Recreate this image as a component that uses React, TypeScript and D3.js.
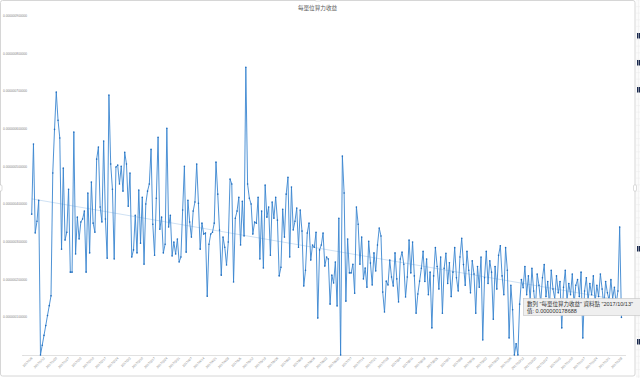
import React from "react";
import * as d3 from "d3";

const TITLE = "每單位算力收益";
const START_DATE = "2017-01-06";
const UNIT = 1e-7;
// daily values, in units of 1e-7
const VALUES = [
  3.74, 5.6, 3.24, 3.55, 4.11,
  0, 0.26, 0.52, 0.78, 1.05, 1.31, 1.57,
  4.83, 5.99, 6.98, 6.23, 5.76, 2.81, 4.96, 3.05, 3.26, 4.4,
  2.2, 2.2, 5.92, 2.68, 3.66, 3.08, 3.53, 3.61, 3.82, 2.2,
  4.3, 2.71, 4.59, 3.5, 3.26, 5.2, 5.52, 3.93, 3.53, 5.68,
  3.61, 2.57, 6.9, 5.07, 4.4, 2.55, 4.99, 5.04, 4.54, 5.01,
  4.35, 5.38, 5.07, 3.95, 4.83, 2.6, 2.79, 3.71, 2.71, 4.38,
  2.97, 4.19, 2.41, 4.01, 4.35, 4.54, 5.46, 3.47, 2.65, 4.16,
  5.78, 3.34, 3.66, 2.71, 2.94, 6.02, 3.4, 3.71, 2.63, 3.0,
  2.68, 3.08, 2.47, 2.6, 3.85, 5.01, 2.73, 4.11, 3.53, 3.13,
  3.82, 4.06, 5.07, 4.03, 2.81, 3.5, 3.21, 3.24, 1.56, 2.94,
  3.21, 3.26, 3.5, 5.12, 4.27, 3.32,
  2.12, 3.13, 2.86, 2.39, 3.0, 4.67, 4.54, 1.94, 3.63, 3.82,
  4.19, 2.92, 4.08, 3.16, 7.64, 4.54, 4.16, 4.01, 3.21, 3.53,
  3.5, 4.19, 2.55, 3.82, 2.31, 4.51, 3.66, 3.93, 2.65, 4.06,
  3.63, 4.19, 3.58, 2.1, 2.33, 3.87, 3.13, 4.27, 4.72, 2.6,
  4.46, 3.32, 3.55, 3.9, 2.86, 3.85, 3.29, 1.83, 2.25, 3.24,
  3.5, 2.52, 2.92, 2.86, 3.26, 0.98, 2.79, 2.92, 3.24, 2.36,
  2.6, 2.55, 1.35, 2.12, 1.91, 2.47, 1.3, 3.63, 0, 5.28,
  4.3, 1.43, 3.08, 2.18, 2.18, 2.41, 1.64, 3.93, 3.47, 2.41,
  3.13, 2.02, 2.31, 1.8, 3.02, 2.44, 1.86, 2.71, 2.23, 2.92,
  3.37, 3.16, 1.67, 1.14, 1.96, 1.86, 2.52, 2.07, 1.83, 2.71,
  2.02, 1.41, 2.55, 2.73, 2.41, 1.54, 2.07, 3.05, 2.18, 3.0,
  2.1, 1.11, 1.62, 1.96,
  2.3, 2.75, 1.95, 2.55, 1.6, 2.2, 0.72, 2.1, 2.85, 2.35,
  1.75, 2.6, 1.11, 2.3, 2.7, 1.9, 2.45, 1.55, 2.2, 2.85,
  2.05, 1.7, 2.6, 3.1, 2.4, 1.85, 2.75, 2.25, 1.65, 2.5,
  2.15, 1.11, 2.35, 1.8, 2.6, 0.4, 2.05, 2.75, 1.9, 2.5,
  2.2, 0.95, 2.35, 1.75, 2.65, 2.9, 2.1, 1.6, 2.85, 2.25,
  0.45, 1.85, 1.2, 0, 0.3, 0, 1.35, 2.0, 1.78688, 2.35,
  1.6, 2.1, 1.45, 2.3, 1.7, 1.25, 2.15, 1.85, 1.4, 2.05,
  2.4, 1.55, 1.95, 1.3, 2.25, 1.75, 1.5, 2.1, 1.65, 1.95,
  0.72, 1.8, 2.25, 1.45, 1.9, 1.6, 2.15, 1.35, 1.85, 2.0,
  1.55, 2.2, 0.45, 1.7, 2.05, 1.45, 1.9, 1.6, 2.1, 1.4,
  1.85, 1.55, 2.15, 1.75, 1.3, 1.95, 1.65, 1.45, 2.0, 1.5,
  1.8, 1.35, 1.7, 3.4, 1.0,
];
const Y_TICKS = [0, 1, 2, 3, 4, 5, 6, 7, 8, 9];
const TICK_EVERY_DAYS = 7;
const TOOLTIP_SERIES = "每單位算力收益";
const TOOLTIP_DATE = "2017/10/13";
const TOOLTIP_VALUE = 0.000000178688;

const W = 640;
const H = 378;
const FONT = "'Liberation Sans', 'Noto Sans CJK TC', sans-serif";

export default function App() {
  const start = d3.utcParse("%Y-%m-%d")(START_DATE) as Date;
  const dayMs = 864e5;
  const data = VALUES.map((v, i) => ({ date: d3.utcDay.offset(start, i), value: v * UNIT, i }));
  const x = d3
    .scaleUtc()
    .domain([new Date(start.getTime() - 5.53 * dayMs), new Date(start.getTime() + 338.6 * dayMs)])
    .range([22, 626]);
  const y = d3.scaleLinear().domain([0, 9 * UNIT]).range([355, 16]);
  const fmt = d3.utcFormat("%Y/%-m/%-d");
  const tickDates = d3.range(0, VALUES.length, TICK_EVERY_DAYS).map((i) => d3.utcDay.offset(start, i));

  const line = d3
    .line<{ date: Date; value: number }>()
    .x((d) => x(d.date))
    .y((d) => y(d.value));

  // linear trendline (least squares)
  const n = data.length;
  const mx = d3.mean(data, (d) => d.i) as number;
  const my = d3.mean(data, (d) => d.value) as number;
  const sxy = d3.sum(data, (d) => (d.i - mx) * (d.value - my));
  const sxx = d3.sum(data, (d) => (d.i - mx) * (d.i - mx));
  const slope = sxy / sxx;
  const icpt = my - slope * mx;
  const trend = [0, n - 1].map((i) => ({ date: d3.utcDay.offset(start, i), value: icpt + slope * i }));

  const yLabel = (v: number) => (v === 0 ? "-" : (v * UNIT).toFixed(12));

  const gridRows = d3.range(0, H, 6.6);
  const navyCells = [33, 60, 87, 246, 339];

  return (
    <svg
      width={W}
      height={H}
      style={{ position: "absolute", left: 0, top: 0, background: "#fff" }}
      fontFamily={FONT}
    >
      {/* spreadsheet strip at right */}
      <rect x={636} y={0} width={4} height={H} fill="#fbfbfb" />
      {gridRows.map((gy, k) => (
        <line key={k} x1={636} x2={640} y1={gy} y2={gy} stroke="#ececec" strokeWidth={0.5} />
      ))}
      {navyCells.map((cy, k) => (
        <rect key={k} x={637} y={cy} width={3} height={5.5} fill="#1b2a4e" />
      ))}
      <line x1={638.5} x2={638.5} y1={0} y2={H} stroke="#ececec" strokeWidth={0.5} />

      {/* chart frame */}
      <rect x={0.5} y={0.5} width={634.5} height={375.5} fill="#fff" stroke="#d6d6d6" strokeWidth={1} rx={2} />
      <rect x={-1} y={185} width={3} height={6} fill="#fff" stroke="#bbb" strokeWidth={0.5} rx={1} />
      <rect x={633.5} y={185} width={3} height={6} fill="#fff" stroke="#bbb" strokeWidth={0.5} rx={1} />
      <rect x={315} y={-2} width={6} height={3} fill="#fff" stroke="#bbb" strokeWidth={0.5} rx={1} />

      {/* title */}
      <text x={317.5} y={10} textAnchor="middle" fontSize={5.6} fill="#595959">
        {TITLE}
      </text>

      {/* y labels */}
      {Y_TICKS.map((t) => (
        <text key={t} x={t === 0 ? 24 : 27} y={y(t * UNIT) + 1} textAnchor="end" fontSize={3.2} fill="#7f7f7f">
          {yLabel(t)}
        </text>
      ))}

      {/* x axis */}
      <line x1={22} x2={626} y1={355.5} y2={355.5} stroke="#d9d9d9" strokeWidth={0.8} />
      {tickDates.map((d, k) => (
        <text
          key={k}
          transform={`translate(${x(d) + 1},${358.5}) rotate(-45)`}
          textAnchor="end"
          fontSize={3.2}
          fill="#7f7f7f"
        >
          {fmt(d)}
        </text>
      ))}

      {/* trendline */}
      <path d={line(trend) as string} fill="none" stroke="#c9def2" strokeWidth={0.9} />

      {/* series */}
      <path d={line(data) as string} fill="none" stroke="#3a86d0" strokeWidth={0.9} strokeLinejoin="round" />
      {data.map((d) => (
        <circle key={d.i} cx={x(d.date)} cy={y(d.value)} r={0.8} fill="#1f6cbd" />
      ))}

      {/* tooltip */}
      <g>
        <rect x={523.5} y={298.5} width={120} height={17} fill="#efefef" stroke="#c4c4c4" strokeWidth={0.6} />
        <text x={527} y={305.5} fontSize={5.5} fill="#333">
          {`數列 "${TOOLTIP_SERIES}" 資料點 "${TOOLTIP_DATE}"`}
        </text>
        <text x={527} y={313} fontSize={5.5} fill="#333">
          {`值: ${TOOLTIP_VALUE.toFixed(12)}`}
        </text>
      </g>
    </svg>
  );
}
